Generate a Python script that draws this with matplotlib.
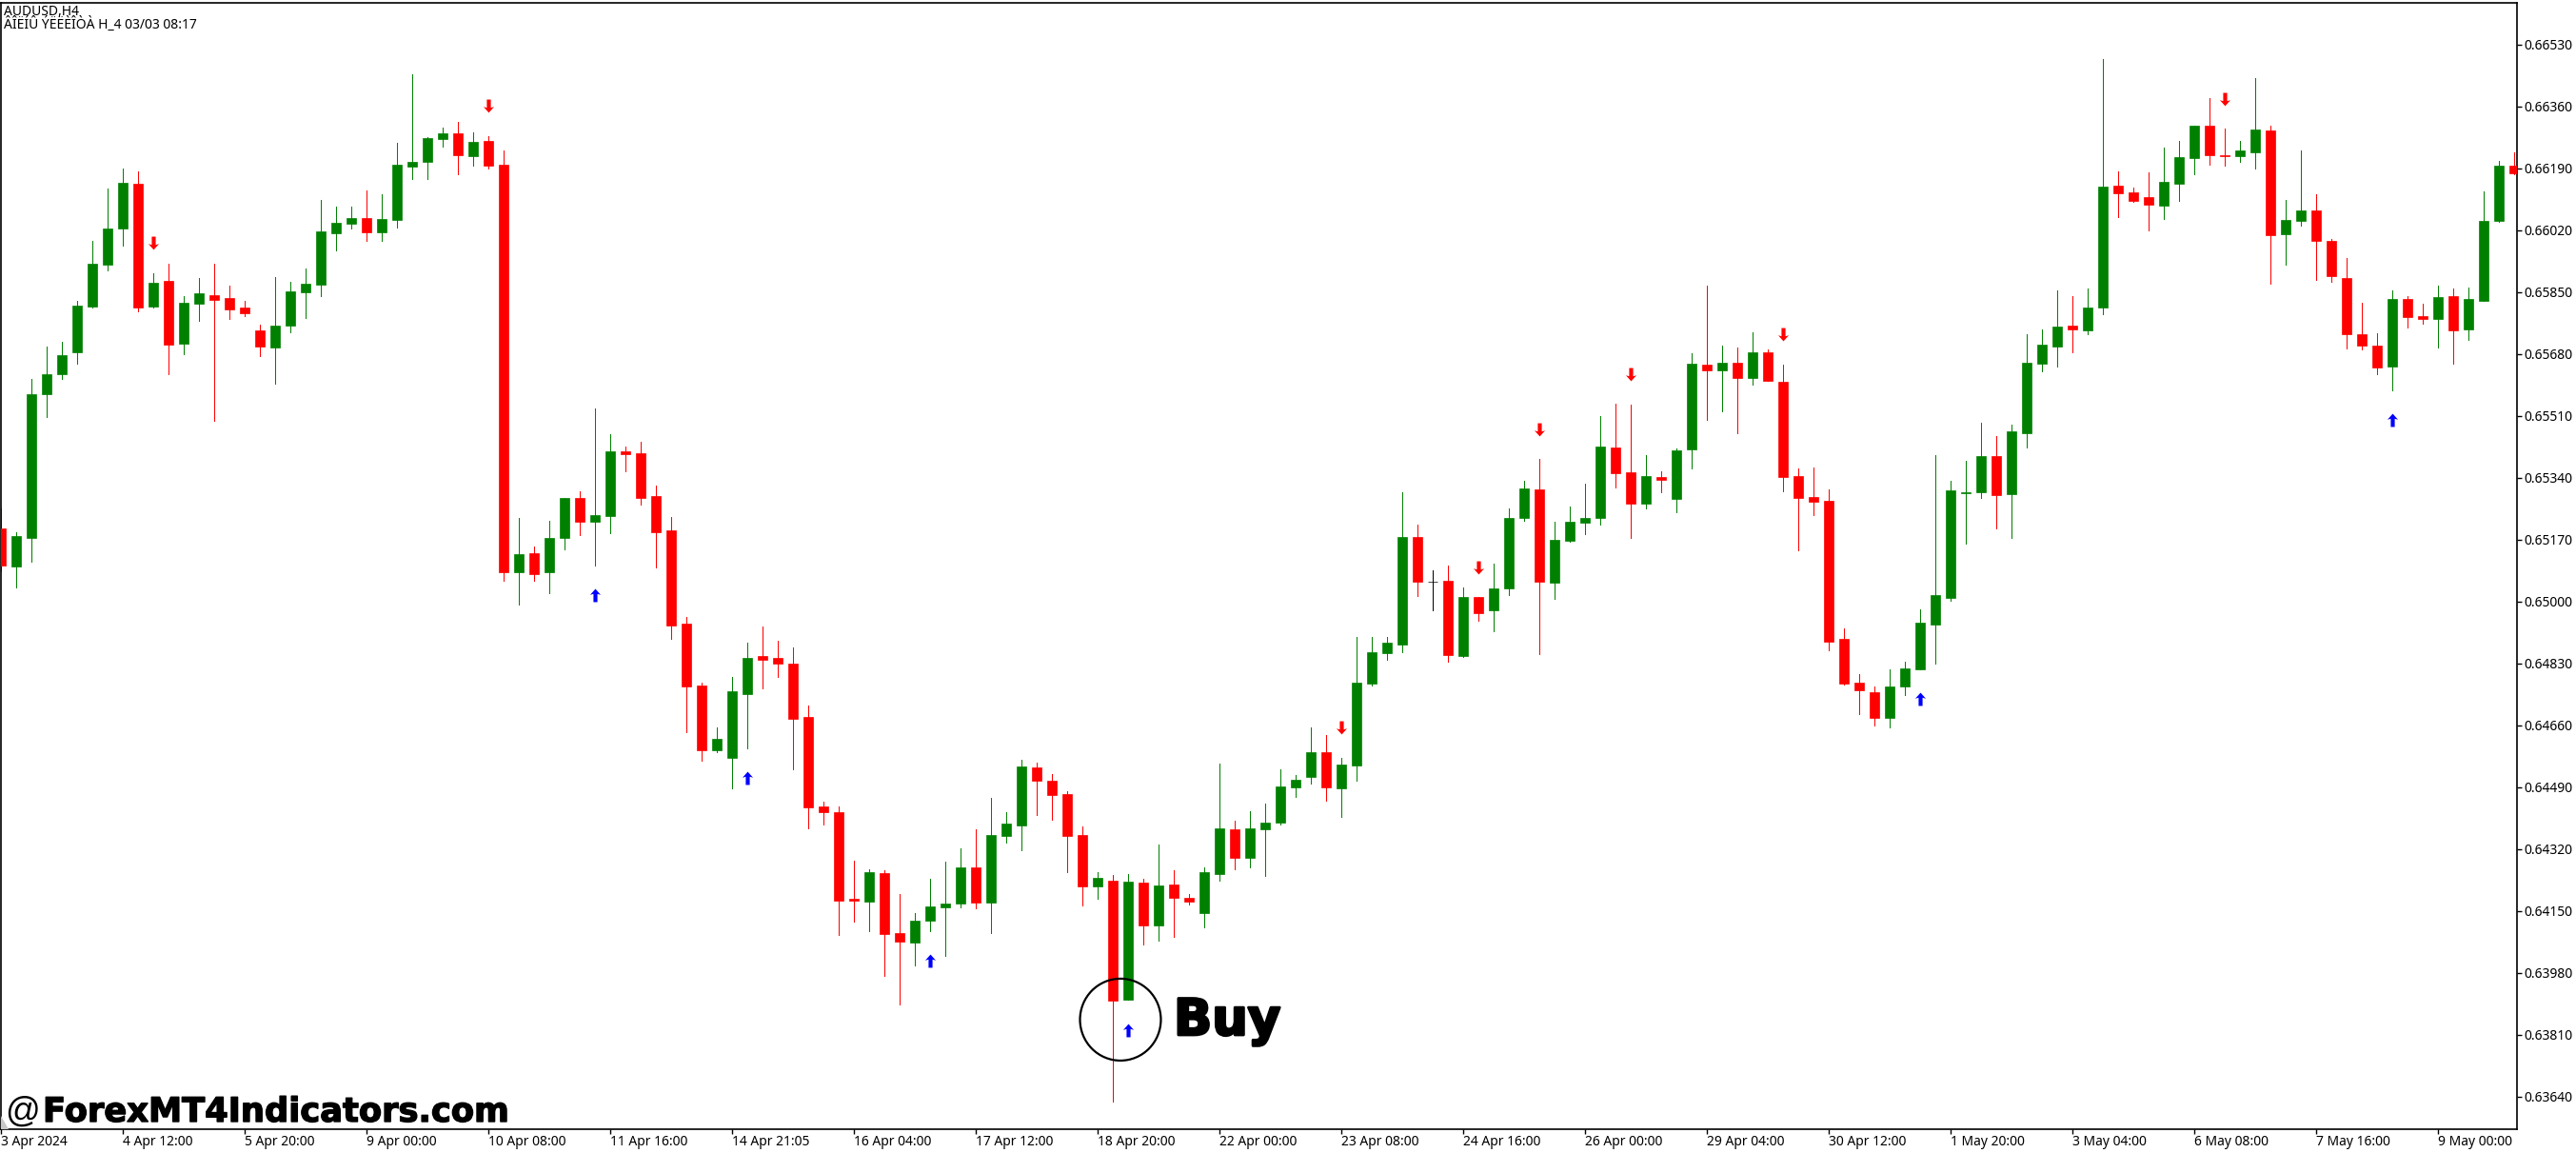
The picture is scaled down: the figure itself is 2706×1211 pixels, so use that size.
import matplotlib
matplotlib.use('Agg')
import matplotlib.pyplot as plt
import matplotlib.patheffects as pe
from matplotlib.patches import Ellipse, Polygon
import numpy as np

W, H = 2706, 1211

# prices in points (1e-5)
opens = [65201, 65095, 65175, 65570, 65623, 65683, 65811, 65926, 66023, 66148,
         65811, 65881, 65708, 65818, 65842, 65834, 65806, 65745, 65698, 65758,
         65850, 65871, 66011, 66038, 66054, 66014, 66048, 66194, 66206, 66271,
         66286, 66223, 66265, 66199, 65079, 65131, 65079, 65173, 65285, 65218,
         65235, 65411, 65408, 65288, 65196, 64939, 64769, 64592, 64570, 64746,
         64851, 64845, 64829, 64682, 64437, 64422, 64182, 64175, 64253, 64089,
         64063, 64123, 64160, 64170, 64270, 64173, 64356, 64385, 64544, 64507,
         64471, 64358, 64218, 64233, 63906, 64228, 64110, 64223, 64186, 64144,
         64251, 64375, 64296, 64375, 64393, 64489, 64518, 64586, 64487, 64549,
         64774, 64858, 64881, 65177, 65053, 65057, 64849, 65012, 64975, 65035,
         65229, 65307, 65051, 65166, 65216, 65229, 65423, 65355, 65269, 65341,
         65281, 65417, 65650, 65635, 65656, 65614, 65684, 65603, 65344, 65287,
         65276, 64897, 64777, 64750, 64680, 64766, 64814, 64936, 65009, 65297,
         65300, 65399, 65295, 65463, 65654, 65700, 65758, 65745, 65806, 66143,
         66124, 66110, 66088, 66148, 66218, 66307, 66226, 66223, 66233, 66294,
         66009, 66045, 66074, 65991, 65889, 65734, 65703, 65645, 65831, 65784,
         65777, 65839, 65748, 65826, 66045, 66197]
highs = [65254, 65190, 65611, 65700, 65712, 65826, 65991, 66134, 66189, 66182,
         65902, 65928, 65839, 65889, 65928, 65868, 65826, 65761, 65891, 65878,
         65915, 66103, 66085, 66083, 66129, 66119, 66260, 66448, 66276, 66302,
         66317, 66288, 66278, 66239, 65228, 65151, 65220, 65283, 65303, 65531,
         65460, 65426, 65437, 65317, 65233, 64958, 64777, 64654, 64791, 64887,
         64931, 64892, 64874, 64714, 64450, 64437, 64288, 64265, 64262, 64196,
         64144, 64238, 64285, 64322, 64375, 64460, 64422, 64565, 64557, 64526,
         64479, 64382, 64256, 64248, 64251, 64238, 64332, 64262, 64196, 64270,
         64555, 64398, 64424, 64445, 64539, 64523, 64654, 64633, 64570, 64903,
         64902, 64902, 65300, 65211, 65085, 65098, 65038, 65012, 65103, 65255,
         65331, 65391, 65218, 65260, 65323, 65509, 65543, 65540, 65402, 65358,
         65420, 65681, 65867, 65703, 65697, 65739, 65693, 65650, 65365, 65368,
         65307, 64925, 64800, 64766, 64814, 64834, 64978, 65402, 65331, 65386,
         65491, 65454, 65486, 65734, 65748, 65855, 65839, 65860, 66490, 66182,
         66137, 66179, 66247, 66265, 66307, 66383, 66300, 66265, 66438, 66307,
         66103, 66239, 66119, 65996, 65944, 65821, 65737, 65855, 65839, 65818,
         65868, 65860, 65862, 66127, 66210, 66233]
lows = [65083, 65037, 65110, 65507, 65611, 65654, 65806, 65910, 65978, 65797,
        65806, 65625, 65680, 65771, 65495, 65777, 65784, 65674, 65599, 65739,
        65779, 65839, 65965, 66023, 65989, 65989, 66028, 66161, 66161, 66250,
        66173, 66197, 66189, 65057, 64990, 65057, 65023, 65144, 65183, 65097,
        65186, 65358, 65267, 65092, 64898, 64641, 64562, 64586, 64487, 64597,
        64761, 64791, 64539, 64377, 64387, 64084, 64121, 64094, 63971, 63893,
        64001, 64094, 64026, 64160, 64158, 64089, 64338, 64317, 64413, 64400,
        64256, 64165, 64183, 63625, 63906, 64058, 64068, 64079, 64168, 64105,
        64233, 64265, 64270, 64246, 64387, 64463, 64500, 64453, 64408, 64507,
        64769, 64839, 64860, 65014, 64975, 64834, 64847, 64946, 64918, 65017,
        65221, 64855, 65007, 65164, 65184, 65211, 65313, 65174, 65255, 65300,
        65245, 65365, 65498, 65522, 65462, 65595, 65605, 65302, 65140, 65236,
        64866, 64771, 64691, 64658, 64654, 64743, 64814, 64829, 65002, 65158,
        65284, 65200, 65174, 65423, 65633, 65645, 65683, 65734, 65789, 66056,
        66098, 66020, 66051, 66100, 66173, 66199, 66197, 66208, 66189, 65872,
        65926, 66033, 65883, 65878, 65695, 65693, 65623, 65580, 65753, 65763,
        65698, 65654, 65719, 65826, 66043, 66173]
closes = [65098, 65180, 65570, 65625, 65677, 65813, 65928, 66025, 66150, 65808,
          65876, 65705, 65821, 65845, 65828, 65802, 65792, 65700, 65758, 65852,
          65873, 66016, 66040, 66054, 66014, 66051, 66199, 66208, 66273, 66286,
          66226, 66262, 66197, 65079, 65129, 65076, 65175, 65283, 65218, 65238,
          65413, 65403, 65285, 65191, 64934, 64766, 64592, 64622, 64754, 64845,
          64839, 64829, 64677, 64435, 64422, 64178, 64178, 64256, 64086, 64066,
          64123, 64163, 64170, 64270, 64173, 64358, 64390, 64547, 64507, 64468,
          64356, 64218, 64241, 63904, 64230, 64110, 64220, 64186, 64175, 64256,
          64377, 64296, 64377, 64393, 64492, 64510, 64586, 64489, 64552, 64777,
          64860, 64886, 65177, 65054, 65053, 64852, 65012, 64968, 65035, 65229,
          65310, 65054, 65169, 65218, 65229, 65425, 65352, 65269, 65344, 65334,
          65414, 65653, 65635, 65656, 65614, 65684, 65605, 65341, 65284, 65273,
          64889, 64774, 64756, 64680, 64766, 64815, 64941, 65017, 65305, 65300,
          65399, 65291, 65466, 65656, 65705, 65756, 65748, 65808, 66139, 66122,
          66100, 66090, 66153, 66221, 66307, 66226, 66222, 66239, 66296, 66006,
          66048, 66074, 65989, 65894, 65734, 65703, 65643, 65831, 65782, 65777,
          65837, 65745, 65831, 66045, 66197, 66177]

# indicator arrows: bar index and price level
sell_bars = [10, 32, 88, 97, 101, 107, 117, 146]
sell_levels = [65985, 66362, 64654, 65093, 65473, 65624, 65734, 66380]
buy_bars = [39, 49, 61, 74, 126, 157]
buy_levels = [65017, 64515, 64013, 63822, 64732, 65499]

price_ticks = [0.63640, 0.63810, 0.63980, 0.64150, 0.64320, 0.64490, 0.64660,
               0.64830, 0.65000, 0.65170, 0.65340, 0.65510, 0.65680, 0.65850,
               0.66020, 0.66190, 0.66360, 0.66530]
date_labels = ['3 Apr 2024', '4 Apr 12:00', '5 Apr 20:00', '9 Apr 00:00',
               '10 Apr 08:00', '11 Apr 16:00', '14 Apr 21:05', '16 Apr 04:00',
               '17 Apr 12:00', '18 Apr 20:00', '22 Apr 00:00', '23 Apr 08:00',
               '24 Apr 16:00', '26 Apr 00:00', '29 Apr 04:00', '30 Apr 12:00',
               '1 May 20:00', '3 May 04:00', '6 May 08:00', '7 May 16:00',
               '9 May 00:00']

GREEN = '#008000'
RED = '#ff0000'

# fat little arrow like the MT4 wingding
UP_ARROW = [(0, 1), (0.8, 0.1), (0.3, 0.25), (0.3, -1), (-0.3, -1), (-0.3, 0.25), (-0.8, 0.1)]
DOWN_ARROW = [(px, -py) for px, py in UP_ARROW]

plt.rcParams['font.family'] = ['Noto Sans', 'DejaVu Sans']

o = np.array(opens) / 1e5
h = np.array(highs) / 1e5
l = np.array(lows) / 1e5
c = np.array(closes) / 1e5
x = np.arange(len(o))
colors = [GREEN if b > a else RED if b < a else 'black' for a, b in zip(o, c)]

fig = plt.figure(figsize=(W / 100, H / 100), dpi=100, facecolor='white')
# plot box in pixels: x 1..2644, y 3..1186
ax = fig.add_axes([1 / W, 1 - 1186 / H, 2643 / W, 1183 / H])
ax.set_xlim(0, 165.19)
ax.set_ylim(0.63550, 0.66644)

wicks = ax.vlines(x, l, h, colors=colors, linewidth=0.6, antialiased=False, zorder=2)
wicks.set_snap(True)
bottoms = np.minimum(o, c)
ax.bar(x, np.abs(c - o), bottom=bottoms, width=0.66, color=colors,
       edgecolor=colors, linewidth=0.5, zorder=3)

ax.plot(sell_bars, np.array(sell_levels) / 1e5, linestyle='none', marker=DOWN_ARROW,
        color=RED, markersize=10, markeredgewidth=0, zorder=4)
ax.plot(buy_bars, np.array(buy_levels) / 1e5, linestyle='none', marker=UP_ARROW,
        color='#0000ff', markersize=10, markeredgewidth=0, zorder=4)

# hand drawn buy circle
ax.add_patch(Ellipse((73.5, 0.63851), 5.31, 0.00225, fill=False, edgecolor='black',
                     linewidth=1.6, zorder=5))

ax.yaxis.tick_right()
ax.set_yticks(price_ticks)
ax.set_yticklabels(['%.5f' % p for p in price_ticks])
ax.set_xticks(x[::8])
ax.set_xticklabels(date_labels, ha='left')
ax.tick_params(axis='y', length=3.6, width=1, pad=2, labelsize=10, colors='black')
ax.tick_params(axis='x', length=3.6, width=1, pad=1, labelsize=10, colors='black')
for spine in ax.spines.values():
    spine.set_linewidth(1.2)

# small gray resize corner of the terminal window
fig.add_artist(Polygon([(1 / W, 1 - 1172 / H), (1 / W, 1 - 1186 / H), (9 / W, 1 - 1186 / H)],
                       closed=True, facecolor='#c8c8c8', edgecolor='none',
                       transform=fig.transFigure))

# header text
fig.text(4 / W, 1 - 13 / H, 'AUDUSD,H4', fontsize=10, va='center', ha='left')
fig.text(4 / W, 1 - 26 / H, 'ÂÎËÍÛ ÝËËÈÎÒÀ H_4 03/03 08:17', fontsize=10,
         va='center', ha='left')

# watermark and label pasted on the screenshot
fig.text(5 / W, 1 - 1178 / H, '@', fontsize=26, ha='left', va='baseline',
         family='Liberation Sans')
fig.text(45 / W, 1 - 1178 / H, 'ForexMT4Indicators.com', fontsize=25.4, ha='left',
         va='baseline', family='DejaVu Sans', weight='bold',
         path_effects=[pe.withStroke(linewidth=1.0, foreground='black')])
fig.text(1233 / W, 1 - 1087 / H, 'Buy', fontsize=38, ha='left', va='baseline',
         family='DejaVu Sans', weight='bold',
         path_effects=[pe.withStroke(linewidth=2.0, foreground='black')])

fig.savefig('out.png', dpi=100)
